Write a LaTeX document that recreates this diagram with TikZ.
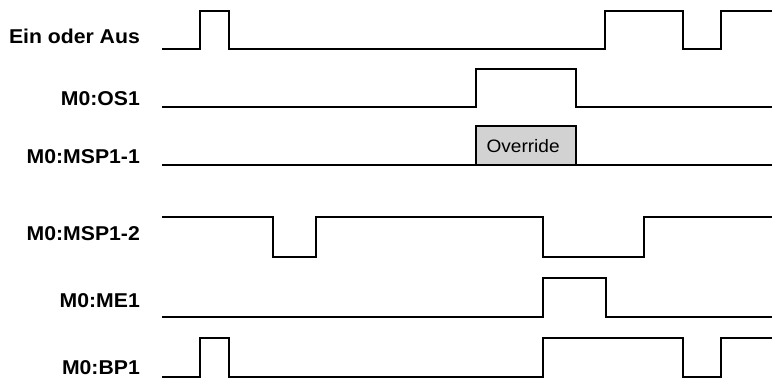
\documentclass[tikz,border=0pt]{standalone}
\usepackage{fontspec}
\setmainfont[FakeStretch=1.06]{Liberation Sans}
\usepackage{tikz}

\begin{document}
\begin{tikzpicture}[x = 1pt, y = -1pt,
  sig/.style = {line width = 2.2pt, line join = miter},
  lbl/.style = {anchor = base east, inner sep = 0pt, font = \bfseries\fontsize{20}{24}\selectfont}]
\useasboundingbox (0,0) rectangle (772,383);
% labels
\node[lbl] (ein) at (140,43) {Ein oder Aus};
\node[lbl] (os) at (140,105) {M0:OS1};
\node[lbl] (mspa) at (140,163.5) {M0:MSP1-1};
\node[lbl] (mspb) at (140,240) {M0:MSP1-2};
\node[lbl] (me) at (140,307) {M0:ME1};
\node[lbl] (bp) at (140,374.5) {M0:BP1};
% signals
\draw[sig] (162,49) -- (200,49) -- (200,11) -- (229,11) -- (229,49) -- (605,49) -- (605,11) -- (683,11) -- (683,49) -- (721,49) -- (721,11) -- (772,11);
\draw[sig] (162,107) -- (476,107) -- (476,69) -- (576,69) -- (576,107) -- (772,107);
\filldraw[sig, fill = gray!35] (476,165) rectangle (576,126);
\node[anchor = west, font = \fontsize{18}{21}\selectfont] (ovr) at (483,146) {Override};
\draw[sig] (162,165) -- (772,165);
\draw[sig] (162,217) -- (273,217) -- (273,257) -- (316,257) -- (316,217) -- (543,217) -- (543,257) -- (644,257) -- (644,217) -- (772,217);
\draw[sig] (162,317) -- (543,317) -- (543,278) -- (606,278) -- (606,317) -- (772,317);
\draw[sig] (162,377) -- (200,377) -- (200,338) -- (229,338) -- (229,377) -- (543,377) -- (543,338) -- (683,338) -- (683,377) -- (721,377) -- (721,338) -- (772,338);
\end{tikzpicture}
\end{document}
